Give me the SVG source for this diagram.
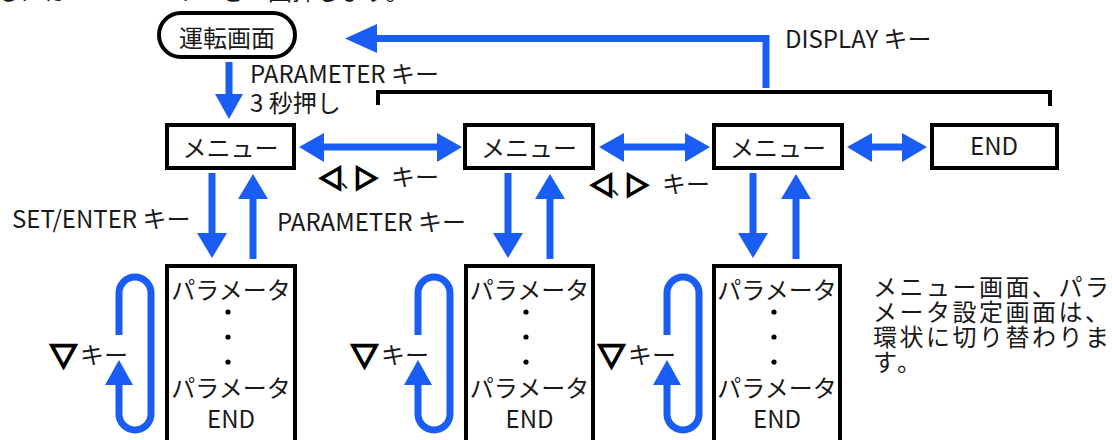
<svg xmlns="http://www.w3.org/2000/svg" width="1112" height="440" viewBox="0 0 1112 440">
<style>
text{font-family:"Noto Sans CJK JP","Noto Sans",sans-serif;fill:#1a1a1a;font-size:24px}
.c{text-anchor:middle}
.box{fill:#fff;stroke:#000;stroke-width:4}
.bl{fill:none;stroke:#1a5df5;stroke-width:7}
.hd{fill:#1a5df5}
.sym{font-family:"Noto Sans CJK JP",sans-serif;font-weight:bold;fill:#000;stroke:#000;stroke-width:2.4}
.dot{fill:#000}
</style>
<text x="-4" y="0">るには DISPLAY キーを 1 回押します。</text>

<g id="connectors">
  <!-- 運転画面 -> メニュー -->
  <line class="bl" x1="229" y1="62" x2="229" y2="96"/>
  <polygon class="hd" points="215,94 243,94 229,119"/>
  <!-- DISPLAY return -->
  <polyline class="bl" points="766,88 766,38.5 375,38.5" stroke-linejoin="miter"/>
  <polygon class="hd" points="345,38.5 377,24 377,53"/>
  <!-- black bracket -->
  <polyline points="378,105 378,92 1050,92 1050,106" fill="none" stroke="#000" stroke-width="4"/>
  <!-- horizontal double arrows -->
  <line class="bl" x1="320" y1="147" x2="440" y2="147"/>
  <polygon class="hd" points="299,147 324,133 324,162"/>
  <polygon class="hd" points="462,147 437,133 437,162"/>
  <line class="bl" x1="620" y1="147" x2="690" y2="147"/>
  <polygon class="hd" points="599,147 624,133 624,162"/>
  <polygon class="hd" points="710,147 685,133 685,162"/>
  <line class="bl" x1="868" y1="147" x2="906" y2="147"/>
  <polygon class="hd" points="847,147 872,133 872,162"/>
  <polygon class="hd" points="927,147 902,133 902,162"/>
  <!-- column 1 vertical -->
  <line class="bl" x1="212" y1="173" x2="212" y2="236"/>
  <polygon class="hd" points="197,233 227,233 212,258"/>
  <line class="bl" x1="253" y1="196" x2="253" y2="259"/>
  <polygon class="hd" points="238,199 268,199 253,174"/>
  <!-- column 2 vertical -->
  <line class="bl" x1="508" y1="173" x2="508" y2="236"/>
  <polygon class="hd" points="493,233 523,233 508,258"/>
  <line class="bl" x1="550" y1="196" x2="550" y2="259"/>
  <polygon class="hd" points="535,199 565,199 550,174"/>
  <!-- column 3 vertical -->
  <line class="bl" x1="753" y1="173" x2="753" y2="236"/>
  <polygon class="hd" points="738,233 768,233 753,258"/>
  <line class="bl" x1="796" y1="196" x2="796" y2="259"/>
  <polygon class="hd" points="781,199 811,199 796,174"/>
  <!-- loops -->
  <path class="bl" d="M119,335 L119,293 A16,16 0 0 1 151,293 L151,414 A16,16 0 0 1 119,414 L119,382"/>
  <polygon class="hd" points="119,360 105,385 133,385"/>
  <path class="bl" d="M418,335 L418,293 A16,16 0 0 1 450,293 L450,414 A16,16 0 0 1 418,414 L418,382"/>
  <polygon class="hd" points="418,360 404,385 432,385"/>
  <path class="bl" d="M667,335 L667,293 A16,16 0 0 1 699,293 L699,414 A16,16 0 0 1 667,414 L667,382"/>
  <polygon class="hd" points="667,360 653,385 681,385"/>
</g>

<g id="run">
  <rect class="box" x="159" y="13" width="136" height="44" rx="22"/>
  <text class="c" x="227" y="47" font-size="25">運転画面</text>
</g>
<g id="menu1">
  <rect class="box" x="167" y="125" width="127" height="43"/>
  <text class="c" x="230.5" y="157">メニュー</text>
</g>
<g id="menu2">
  <rect class="box" x="465" y="125" width="128" height="43"/>
  <text class="c" x="529" y="157">メニュー</text>
</g>
<g id="menu3">
  <rect class="box" x="714" y="125" width="128" height="43"/>
  <text class="c" x="778" y="157">メニュー</text>
</g>
<g id="end">
  <rect class="box" x="932" y="125" width="125" height="43"/>
  <text class="c" x="994" y="155">END</text>
</g>

<g id="param1">
  <rect class="box" x="167" y="266" width="128" height="184"/>
  <text class="c" x="231" y="299" font-size="23">パラメータ</text>
  <circle class="dot" cx="228" cy="312" r="2.6"/>
  <circle class="dot" cx="228" cy="337" r="2.6"/>
  <circle class="dot" cx="228" cy="362" r="2.6"/>
  <text class="c" x="231" y="397" font-size="23">パラメータ</text>
  <text class="c" x="231" y="428" font-size="23">END</text>
</g>
<g id="param2">
  <rect class="box" x="466" y="266" width="127" height="184"/>
  <text class="c" x="529.5" y="299" font-size="23">パラメータ</text>
  <circle class="dot" cx="526" cy="312" r="2.6"/>
  <circle class="dot" cx="526" cy="337" r="2.6"/>
  <circle class="dot" cx="526" cy="362" r="2.6"/>
  <text class="c" x="529.5" y="397" font-size="23">パラメータ</text>
  <text class="c" x="529.5" y="428" font-size="23">END</text>
</g>
<g id="param3">
  <rect class="box" x="714" y="266" width="126" height="184"/>
  <text class="c" x="777" y="299" font-size="23">パラメータ</text>
  <circle class="dot" cx="774" cy="312" r="2.6"/>
  <circle class="dot" cx="774" cy="337" r="2.6"/>
  <circle class="dot" cx="774" cy="362" r="2.6"/>
  <text class="c" x="777" y="397" font-size="23">パラメータ</text>
  <text class="c" x="777" y="428" font-size="23">END</text>
</g>

<g id="labels">
  <text x="250" y="83">PARAMETER キー</text>
  <text x="250" y="112">3 秒押し</text>
  <text x="785" y="48" font-size="26">DISPLAY キー</text>
  <text x="12" y="228">SET/ENTER キー</text>
  <text x="277" y="231">PARAMETER キー</text>
  <text x="319" y="187"><tspan class="sym">◁</tspan><tspan x="340" font-size="22">、</tspan><tspan class="sym" x="354">▷</tspan><tspan x="391" y="186">キー</tspan></text>
  <text x="590" y="194"><tspan class="sym">◁</tspan><tspan x="611" font-size="22">、</tspan><tspan class="sym" x="625">▷</tspan><tspan x="662" y="193">キー</tspan></text>
  <text x="50" y="366"><tspan class="sym" font-size="27">▽</tspan><tspan x="80" y="364">キー</tspan></text>
  <text x="351" y="366"><tspan class="sym" font-size="27">▽</tspan><tspan x="381" y="364">キー</tspan></text>
  <text x="598" y="366"><tspan class="sym" font-size="27">▽</tspan><tspan x="628" y="364">キー</tspan></text>
  <text x="873" y="296" font-size="22.5" letter-spacing="2.5">メニュー画面、パラ</text>
  <text x="873" y="321" font-size="22.5" letter-spacing="2.5">メータ設定画面は、</text>
  <text x="873" y="346" font-size="22.5" letter-spacing="2.5">環状に切り替わりま</text>
  <text x="873" y="371" font-size="22.5" letter-spacing="2.5">す。</text>
</g>
</svg>
